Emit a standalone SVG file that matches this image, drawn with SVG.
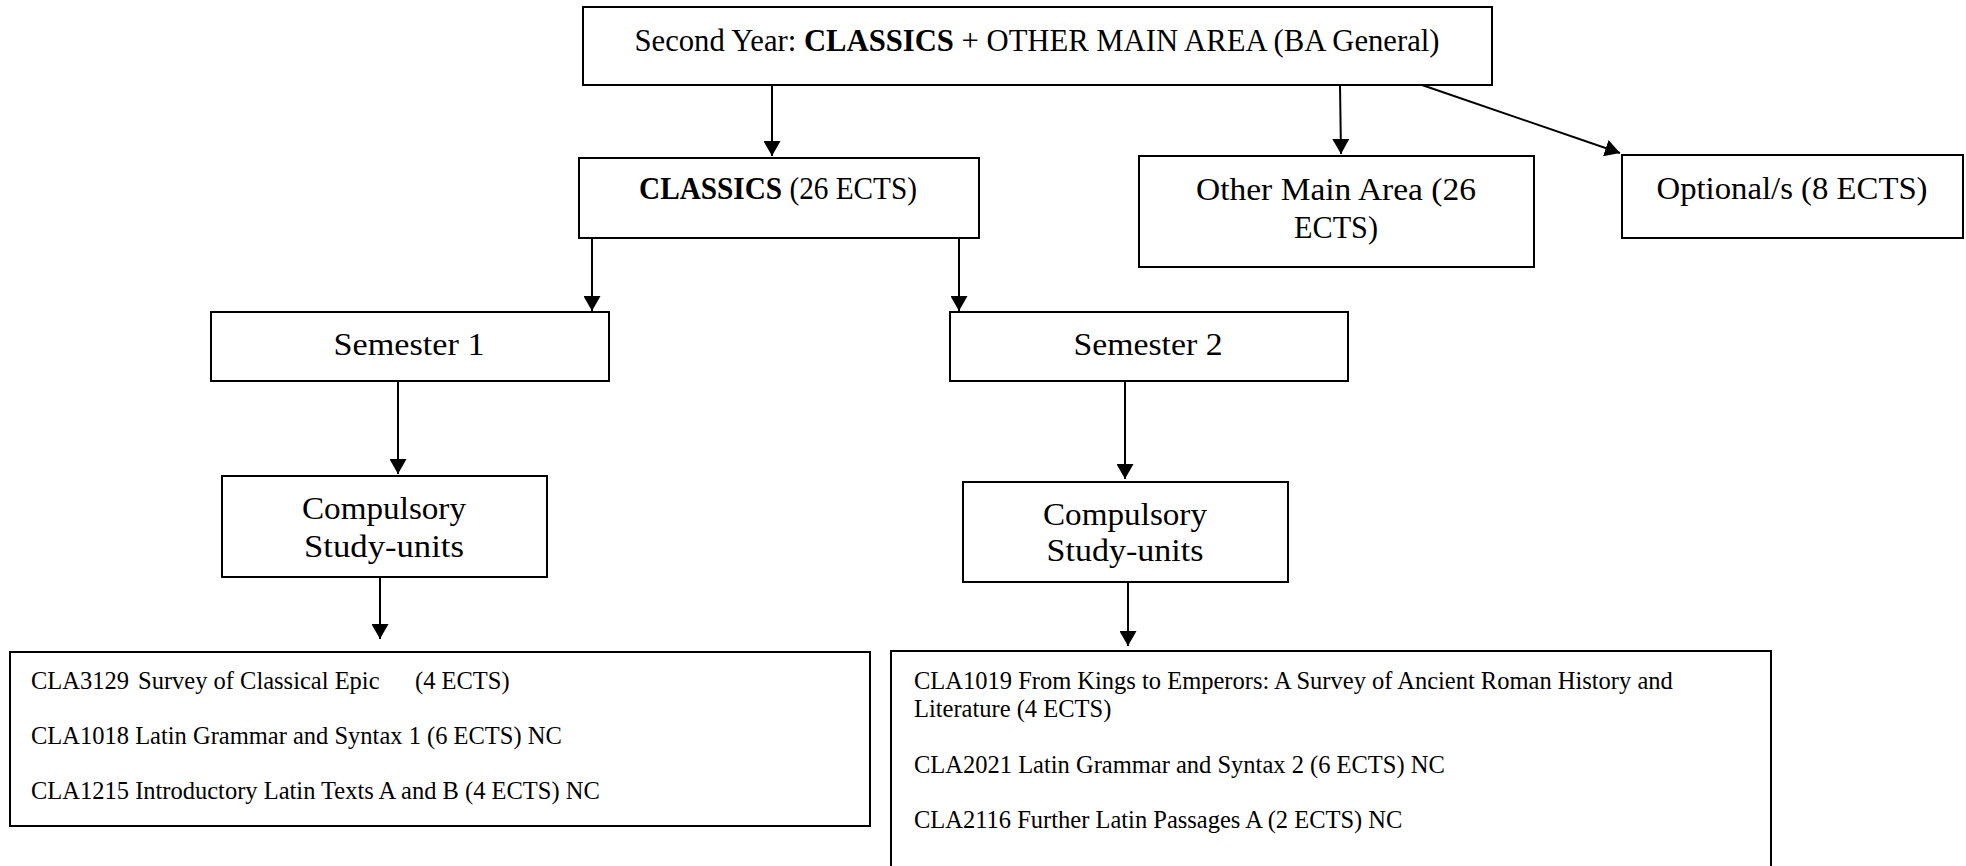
<svg xmlns="http://www.w3.org/2000/svg" width="1966" height="866" viewBox="0 0 1966 866">
<style>
.box{fill:#fff;stroke:#000;stroke-width:2}
.t{font-family:"Liberation Serif","Times New Roman",serif;font-size:32px;fill:#000;text-anchor:middle}
.s{font-family:"Liberation Serif","Times New Roman",serif;font-size:24.5px;fill:#000}
.b{font-weight:bold}
.c{fill:none;stroke:#000;stroke-width:2}
</style>
<defs>
<marker id="ah" markerUnits="userSpaceOnUse" markerWidth="16" markerHeight="17" refX="15" refY="8.5" orient="auto">
<path d="M0,0 L15,8.5 L0,17 z" fill="#000"/>
</marker>
</defs>
<rect width="1966" height="866" fill="#fff"/>
<g id="connectors">
<line class="c" x1="772" y1="85" x2="772" y2="156" marker-end="url(#ah)"/>
<line class="c" x1="1340" y1="85" x2="1341" y2="154" marker-end="url(#ah)"/>
<line class="c" x1="1422" y1="85" x2="1620" y2="153" marker-end="url(#ah)"/>
<line class="c" x1="592" y1="238" x2="592" y2="311" marker-end="url(#ah)"/>
<line class="c" x1="959" y1="238" x2="959" y2="311" marker-end="url(#ah)"/>
<line class="c" x1="398" y1="374" x2="398" y2="474" marker-end="url(#ah)"/>
<line class="c" x1="380" y1="566" x2="380" y2="639" marker-end="url(#ah)"/>
<line class="c" x1="1125" y1="378" x2="1125" y2="479" marker-end="url(#ah)"/>
<line class="c" x1="1128" y1="572" x2="1128" y2="646" marker-end="url(#ah)"/>
</g>
<g id="top">
<rect class="box" x="583" y="7" width="909" height="78"/>
<text class="t" x="1037" y="51" textLength="805" lengthAdjust="spacingAndGlyphs">Second Year: <tspan class="b">CLASSICS</tspan> + OTHER MAIN AREA (BA General)</text>
</g>
<g id="classics">
<rect class="box" x="579" y="158" width="400" height="80"/>
<text class="t" x="778" y="199" textLength="278" lengthAdjust="spacingAndGlyphs"><tspan class="b">CLASSICS</tspan> (26 ECTS)</text>
</g>
<g id="other">
<rect class="box" x="1139" y="156" width="395" height="111"/>
<text class="t" x="1336" y="200" textLength="280" lengthAdjust="spacingAndGlyphs">Other Main Area (26</text>
<text class="t" x="1336" y="238" textLength="84" lengthAdjust="spacingAndGlyphs">ECTS)</text>
</g>
<g id="optional">
<rect class="box" x="1622" y="155" width="341" height="83"/>
<text class="t" x="1792" y="199" textLength="271" lengthAdjust="spacingAndGlyphs">Optional/s (8 ECTS)</text>
</g>
<g id="sem1">
<rect class="box" x="211" y="312" width="398" height="69"/>
<text class="t" x="409" y="355" textLength="151" lengthAdjust="spacingAndGlyphs">Semester 1</text>
</g>
<g id="sem2">
<rect class="box" x="950" y="312" width="398" height="69"/>
<text class="t" x="1148" y="355" textLength="149" lengthAdjust="spacingAndGlyphs">Semester 2</text>
</g>
<g id="comp1">
<rect class="box" x="222" y="476" width="325" height="101"/>
<text class="t" x="384" y="519" textLength="164" lengthAdjust="spacingAndGlyphs">Compulsory</text>
<text class="t" x="384" y="557" textLength="160" lengthAdjust="spacingAndGlyphs">Study-units</text>
</g>
<g id="comp2">
<rect class="box" x="963" y="482" width="325" height="100"/>
<text class="t" x="1125" y="525" textLength="164" lengthAdjust="spacingAndGlyphs">Compulsory</text>
<text class="t" x="1125" y="561" textLength="157" lengthAdjust="spacingAndGlyphs">Study-units</text>
</g>
<g id="list1">
<rect class="box" x="10" y="652" width="860" height="174"/>
<text class="s" x="31" y="689">CLA3129<tspan x="138">Survey of Classical Epic</tspan><tspan x="415">(4 ECTS)</tspan></text>
<text class="s" x="31" y="744">CLA1018 Latin Grammar and Syntax 1 (6 ECTS) NC</text>
<text class="s" x="31" y="799">CLA1215 Introductory Latin Texts A and B (4 ECTS) NC</text>
</g>
<g id="list2">
<rect class="box" x="891" y="651" width="880" height="240"/>
<text class="s" x="914" y="689">CLA1019 From Kings to Emperors: A Survey of Ancient Roman History and</text>
<text class="s" x="914" y="717">Literature (4 ECTS)</text>
<text class="s" x="914" y="773">CLA2021 Latin Grammar and Syntax 2 (6 ECTS) NC</text>
<text class="s" x="914" y="828">CLA2116 Further Latin Passages A (2 ECTS) NC</text>
</g>
</svg>
